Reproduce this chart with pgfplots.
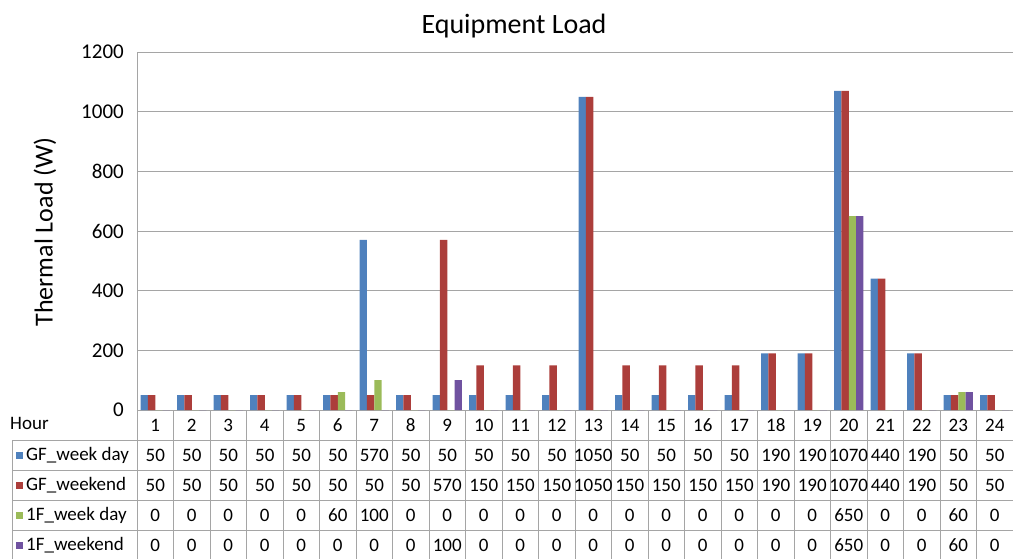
\documentclass[border=0pt]{standalone}
\usepackage{fontspec}
\setmainfont{Carlito}
\usepackage{pgfplots}
\usepackage{pgfplotstable}
\pgfplotsset{compat=1.18}
\definecolor{cB}{RGB}{79,129,189}
\definecolor{cR}{RGB}{172,62,59}
\definecolor{cG}{RGB}{155,187,89}
\definecolor{cP}{RGB}{112,82,160}
\definecolor{tgray}{RGB}{165,165,165}
\newcommand\tf{\fontsize{19}{22}\selectfont}
\pgfplotstableread{
hour gfwd gfwe fwd fwe
1 50 50 0 0
2 50 50 0 0
3 50 50 0 0
4 50 50 0 0
5 50 50 0 0
6 50 50 60 0
7 570 50 100 0
8 50 50 0 0
9 50 570 0 100
10 50 150 0 0
11 50 150 0 0
12 50 150 0 0
13 1050 1050 0 0
14 50 150 0 0
15 50 150 0 0
16 50 150 0 0
17 50 150 0 0
18 190 190 0 0
19 190 190 0 0
20 1070 1070 650 650
21 440 440 0 0
22 190 190 0 0
23 50 50 60 60
24 50 50 0 0
}\data
\begin{document}
\begin{tikzpicture}[x=1pt,y=1pt]
\useasboundingbox (0,0) rectangle (1013,558);
\begin{axis}[
  at={(137pt,148pt)}, anchor=south west, scale only axis,
  width=876pt, height=358pt,
  xmin=0.5, xmax=24.5, ymin=0, ymax=1200,
  ytick={0,200,...,1200}, xtick=\empty,
  ymajorgrids, grid style={tgray, line width=0.9pt},
  axis lines*=left, axis line style={-, tgray, line width=0.9pt},
  major tick length=0pt,
  /pgf/number format/assume math mode=true,
  /pgf/number format/1000 sep={},
  yticklabel style={font=\fontsize{21}{24}\selectfont, anchor=east, inner sep=0pt, xshift=-13pt},
  ybar=0pt, bar width=0.2,
  clip=false,
]
\addplot[fill=cB, draw=none] table[x=hour, y=gfwd] {\data};
\addplot[fill=cR, draw=none] table[x=hour, y=gfwe] {\data};
\addplot[fill=cG, draw=none] table[x=hour, y=fwd] {\data};
\addplot[fill=cP, draw=none] table[x=hour, y=fwe] {\data};
\end{axis}
\node[font=\fontsize{28}{32}\selectfont] at (514,532) {Equipment Load};
\node[rotate=90, font=\fontsize{26}{30}\selectfont] at (45,326) {Thermal Load (W)};
% table grid
\foreach \k in {0,...,24} \draw[tgray, line width=0.9pt] ({137+36.5*\k},148) -- ({137+36.5*\k},-2);
\draw[tgray, line width=0.9pt] (12,118) -- (1013,118);
\foreach \yy in {88,58,28} \draw[tgray, line width=0.9pt] (12,\yy) -- (1013,\yy);
\draw[tgray, line width=0.9pt] (12,118) -- (12,-2);
% row headers
\node[anchor=west, inner sep=0pt, font=\tf] at (10,135) {Hour};
\fill[cB] (16,99.5) rectangle +(7,7);
\node[anchor=west, inner sep=0pt, font=\tf] at (26,103) {GF\_week day};
\fill[cR] (16,69.5) rectangle +(7,7);
\node[anchor=west, inner sep=0pt, font=\tf] at (26,73) {GF\_weekend};
\fill[cG] (16,39.5) rectangle +(7,7);
\node[anchor=west, inner sep=0pt, font=\tf] at (26,43) {1F\_week day};
\fill[cP] (16,9.5) rectangle +(7,7);
\node[anchor=west, inner sep=0pt, font=\tf] at (26,13) {1F\_weekend};
% cells
\foreach \i in {1,...,24} {
  \pgfmathtruncatemacro\r{\i-1}
  \pgfmathsetmacro\cx{137+36.5*(\i-0.5)}
  \node[font=\tf, inner sep=0pt] at (\cx,133) {\i};
  \pgfplotstablegetelem{\r}{gfwd}\of\data
  \node[font=\tf, inner sep=0pt] at (\cx,103) {\pgfplotsretval};
  \pgfplotstablegetelem{\r}{gfwe}\of\data
  \node[font=\tf, inner sep=0pt] at (\cx,73) {\pgfplotsretval};
  \pgfplotstablegetelem{\r}{fwd}\of\data
  \node[font=\tf, inner sep=0pt] at (\cx,43) {\pgfplotsretval};
  \pgfplotstablegetelem{\r}{fwe}\of\data
  \node[font=\tf, inner sep=0pt] at (\cx,13) {\pgfplotsretval};
}
\end{tikzpicture}
\end{document}
